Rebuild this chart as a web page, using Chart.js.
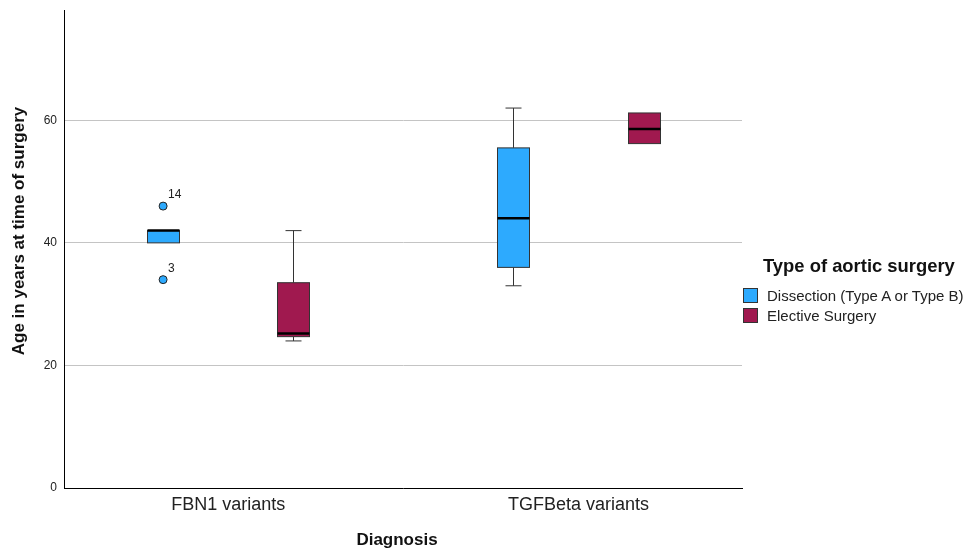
<!DOCTYPE html>
<html>
<head>
<meta charset="utf-8">
<script src="https://cdn.jsdelivr.net/npm/chart.js@4"></script>
<style>
  body { margin: 0; background: #fff; }
  #wrap { position: relative; width: 976px; height: 554px; }
  #legend { position: absolute; left: 743px; top: 255px; font-family: "Liberation Sans", Arial, sans-serif; color: #111; }
  #legend .ttl { font-weight: bold; font-size: 18.4px; margin-left: 20px; margin-bottom: 9px; white-space: nowrap; }
  #legend .item { display: flex; align-items: center; height: 19.5px; font-size: 15px; white-space: nowrap; color: #222; }
  #legend .sw { width: 13px; height: 13px; border: 1px solid #333; margin-right: 9px; }
</style>
</head>
<body>
<div id="wrap">
  <canvas id="box-chart" width="976" height="554"></canvas>
  <div id="legend"></div>
</div>
<script>
// categories on the x axis
var categories = ['FBN1 variants', 'TGFBeta variants'];
var groups = ['Dissection (Type A or Type B)', 'Elective Surgery'];
var groupColors = ['#2DAAFE', '#A0194F'];

// five-number summaries, one value per category
var dissectionMin    = [40, 33];
var dissectionQ1     = [40, 36];
var dissectionMedian = [42, 44];
var dissectionQ3     = [42, 55.5];
var dissectionMax    = [42, 62];

var electiveMin    = [24, 56.2];
var electiveQ1     = [24.7, 56.2];
var electiveMedian = [25.2, 58.6];
var electiveQ3     = [33.5, 61.2];
var electiveMax    = [42, 61.2];

// outliers (dissection group, FBN1)
var outlierCategory = [0, 0];
var outlierValue    = [46, 34];
var outlierLabel    = ['14', '3'];

var yTicks = [0, 20, 40, 60];

var boxes = [
    {min: dissectionMin, q1: dissectionQ1, med: dissectionMedian, q3: dissectionQ3, max: dissectionMax},
    {min: electiveMin, q1: electiveQ1, med: electiveMedian, q3: electiveQ3, max: electiveMax}
];
var groupOffset = [-0.186, 0.186];
var boxHalf = 16;
var font = '"Liberation Sans", Arial, sans-serif';

const boxPlugin = {
    id: 'boxPlugin',
    beforeDatasetsDraw(chart) {
        const {ctx, scales: {x, y}} = chart;
        ctx.save();
        boxes.forEach((b, g) => {
            for (var i = 0; i < categories.length; i++) {
                var cx = Math.round(x.getPixelForValue(i + groupOffset[g])) + 0.5;
                var pMin = y.getPixelForValue(b.min[i]);
                var pQ1 = y.getPixelForValue(b.q1[i]);
                var pMed = y.getPixelForValue(b.med[i]);
                var pQ3 = y.getPixelForValue(b.q3[i]);
                var pMax = y.getPixelForValue(b.max[i]);
                ctx.strokeStyle = '#333';
                ctx.lineWidth = 1;
                // whiskers
                ctx.beginPath();
                if (pMax < pQ3 - 1) {
                    ctx.moveTo(cx, pQ3); ctx.lineTo(cx, pMax);
                    ctx.moveTo(cx - boxHalf / 2, pMax); ctx.lineTo(cx + boxHalf / 2, pMax);
                }
                if (pMin > pQ1 + 1) {
                    ctx.moveTo(cx, pQ1); ctx.lineTo(cx, pMin);
                    ctx.moveTo(cx - boxHalf / 2, pMin); ctx.lineTo(cx + boxHalf / 2, pMin);
                }
                ctx.stroke();
                // box
                ctx.fillStyle = groupColors[g];
                ctx.fillRect(cx - boxHalf, pQ3, boxHalf * 2, pQ1 - pQ3);
                ctx.strokeRect(cx - boxHalf, pQ3, boxHalf * 2, pQ1 - pQ3);
                // median
                ctx.strokeStyle = '#000';
                ctx.lineWidth = 2.5;
                ctx.beginPath();
                ctx.moveTo(cx - boxHalf, pMed); ctx.lineTo(cx + boxHalf, pMed);
                ctx.stroke();
            }
        });
        ctx.restore();
    },
    afterDatasetsDraw(chart) {
        const {ctx, scales: {x, y}} = chart;
        ctx.save();
        ctx.fillStyle = '#222';
        ctx.font = '12px ' + font;
        ctx.textAlign = 'left';
        ctx.textBaseline = 'alphabetic';
        for (var i = 0; i < outlierValue.length; i++) {
            var px = x.getPixelForValue(outlierCategory[i] + groupOffset[0]);
            var py = y.getPixelForValue(outlierValue[i]);
            ctx.fillText(outlierLabel[i], px + 5, py - 8);
        }
        // axis titles
        ctx.fillStyle = '#111';
        ctx.font = 'bold 17px ' + font;
        ctx.textAlign = 'center';
        ctx.textBaseline = 'middle';
        ctx.fillText('Diagnosis', 397, 540);
        ctx.translate(19, 231);
        ctx.rotate(-Math.PI / 2);
        ctx.fillText('Age in years at time of surgery', 0, 0);
        ctx.restore();
    }
};

var outlierData = [];
for (var i = 0; i < outlierValue.length; i++) {
    outlierData.push({x: outlierCategory[i] + groupOffset[0], y: outlierValue[i]});
}

var config = {
    type: 'scatter',
    data: {
        datasets: [{
            label: 'outliers',
            data: outlierData,
            pointRadius: 4,
            pointBackgroundColor: groupColors[0],
            pointBorderColor: '#222',
            pointBorderWidth: 1
        }]
    },
    options: {
        responsive: false,
        animation: false,
        layout: { padding: { top: 10, right: 234, left: 0, bottom: 0 } },
        plugins: {
            legend: { display: false },
            tooltip: { enabled: false }
        },
        scales: {
            x: {
                type: 'linear',
                min: -0.469,
                max: 1.467,
                afterBuildTicks: function(scale) {
                    scale.ticks = categories.map(function(c, i) { return {value: i}; });
                },
                afterFit: function(scale) { scale.height = 66; },
                ticks: {
                    callback: function(v) { return categories[v]; },
                    font: { family: font, size: 18 },
                    color: '#222',
                    padding: 6,
                    maxRotation: 0
                },
                grid: { color: 'transparent', drawTicks: false },
                border: { display: true, color: '#000', width: 1 }
            },
            y: {
                min: 0,
                max: 78,
                afterBuildTicks: function(scale) {
                    scale.ticks = yTicks.map(function(v) { return {value: v}; });
                },
                afterFit: function(scale) {
                    scale.width = 64;
                    scale.paddingTop = 0;
                    scale.paddingBottom = 0;
                },
                ticks: {
                    font: { family: font, size: 12 },
                    color: '#222',
                    padding: 7
                },
                grid: { color: '#c4c4c4', drawTicks: false },
                border: { display: true, color: '#000', width: 1 }
            }
        }
    },
    plugins: [boxPlugin]
};

var ctx1 = document.getElementById('box-chart').getContext('2d');
window.BoxChart = new Chart(ctx1, config);

var legend = document.getElementById('legend');
var html = '<div class="ttl">Type of aortic surgery</div>';
groups.forEach(function(g, i) {
    html += '<div class="item"><span class="sw" style="background:' + groupColors[i] + '"></span>' + g + '</div>';
});
legend.innerHTML = html;
</script>
</body>
</html>
